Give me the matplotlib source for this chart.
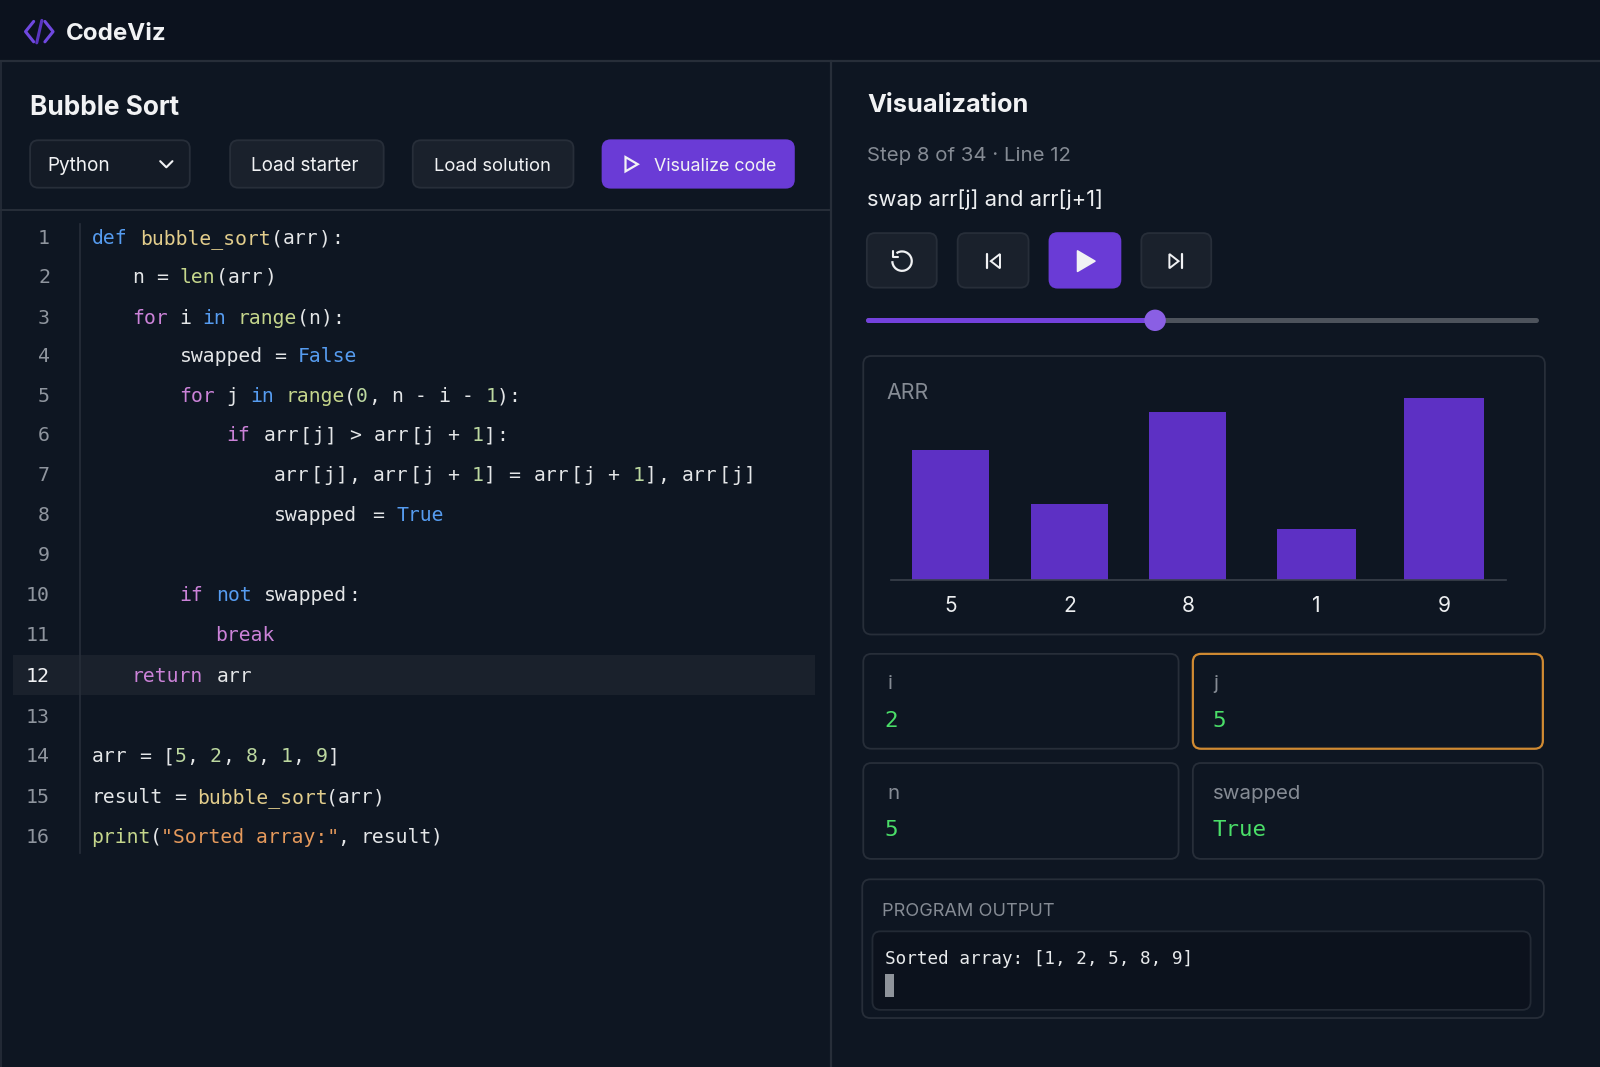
import re
import matplotlib
matplotlib.use('Agg')
import matplotlib.pyplot as plt
from matplotlib.patches import FancyBboxPatch, Rectangle, Circle, Polygon, Arc

# picture content
code_lines = [
    'def bubble_sort(arr):',
    'n = len(arr)',
    'for i in range(n):',
    'swapped = False',
    'for j in range(0, n - i - 1):',
    'if arr[j] > arr[j + 1]:',
    'arr[j], arr[j + 1] = arr[j + 1], arr[j]',
    'swapped = True',
    '',
    'if not swapped:',
    'break',
    'return arr',
    '',
    'arr = [5, 2, 8, 1, 9]',
    'result = bubble_sort(arr)',
    'print("Sorted array:", result)',
]
arr_labels = ['5', '2', '8', '1', '9']
bar_heights = [128, 75, 165, 50, 179]
var_names = ['i', 'j', 'n', 'swapped']
var_values = ['2', '5', '5', 'True']
output_text = 'Sorted array: [1, 2, 5, 8, 9]'

# layout, in the 1568 wide frame the picture was measured in
line_y = [232, 270, 310, 348, 387, 425, 464, 503, 543, 582, 621, 661, 701, 740, 780, 819]
line_x0 = [90, 129, 129, 176, 176, 222, 268, 268, 90, 176, 211, 129, 90, 90, 90, 89]
line_x1 = [336, 271, 337, 350, 510, 498, 741, 437, 90, 353, 270, 248, 90, 333, 377, 434]
bar_x = [931.5, 1048, 1164, 1290, 1415]
bar_w = [76, 75, 75, 78, 79]

BG = '#0e1622'
HEADER = '#0c121e'
LINE = '#272e39'
BTN = '#1a212c'
PURPLE = '#6a3bd6'
WHITE = '#f1f2f4'
GREY = '#858b94'
GREEN = '#4ade68'
UI = ['Inter', 'DejaVu Sans']
MONO = 'DejaVu Sans Mono'
PX = 0.7347  # one frame pixel in points at dpi 100

token_colors = {
    'def': '#569cf0', 'in': '#569cf0', 'not': '#569cf0', 'False': '#569cf0', 'True': '#569cf0',
    'for': '#cb82d8', 'if': '#cb82d8', 'break': '#cb82d8', 'return': '#cb82d8',
    'bubble_sort': '#e2cd8c', 'len': '#c5d68c', 'range': '#c5d68c', 'print': '#c5d68c',
}

fig = plt.figure(figsize=(16, 10.67), dpi=100, facecolor=BG)
ax = fig.add_axes([0, 0, 1, 1])
ax.set_xlim(0, 1568)
ax.set_ylim(1046, 0)
ax.axis('off')


def box(x0, y0, x1, y1, r=8, fc=BTN, ec=LINE, lw=1.3):
    ax.add_patch(FancyBboxPatch((x0, y0), x1 - x0, y1 - y0,
                                boxstyle='round,pad=0,rounding_size=%s' % r,
                                fc=fc, ec=ec, lw=lw, zorder=2))


def label(x, y, s, size, color=WHITE, weight='normal', ha='left', family=None):
    ax.text(x, y, s, fontsize=size * PX, color=color, fontweight=weight, ha=ha,
            va='center_baseline', family=family or UI, zorder=5)


def stroke(xs, ys, color=WHITE, lw=1.6):
    ax.plot(xs, ys, color=color, lw=lw, solid_capstyle='round', solid_joinstyle='round', zorder=5)


# frame
ax.add_patch(Rectangle((0, 0), 1568, 60, fc=HEADER, ec='none', zorder=1))
ax.plot([0, 1568], [60, 60], color=LINE, lw=1.6, zorder=2)
ax.plot([814, 814], [60, 1046], color=LINE, lw=1.6, zorder=2)
ax.plot([1, 1], [60, 1046], color=LINE, lw=1.2, zorder=2)
ax.plot([0, 814], [205.5, 205.5], color=LINE, lw=1.4, zorder=2)

# header
stroke([33, 25, 33], [21, 31, 41], '#7048e0', 2.2)
stroke([44, 52, 44], [21, 31, 41], '#7048e0', 2.2)
stroke([41, 36], [20, 42], '#5a35c0', 2.2)
label(65, 31, 'CodeViz', 23.6, weight='bold')

# left toolbar
label(29, 103, 'Bubble Sort', 25.7, weight='bold')
box(29.5, 137.5, 186, 184, fc='#141b26')
label(46, 161, 'Python', 18.6)
stroke([157, 163, 169], [158, 164, 158], WHITE, 1.5)
box(225.5, 137.5, 376, 184)
label(299, 161, 'Load starter', 18.5, ha='center')
box(404.5, 137.5, 562, 184)
label(483, 161, 'Load solution', 18.1, ha='center')
box(590.5, 137.5, 778, 184, fc=PURPLE, ec=PURPLE)
ax.add_patch(Polygon([(613, 154), (613, 168), (625, 161)], closed=True, fc='none', ec=WHITE, lw=1.6, zorder=5))
label(701, 161, 'Visualize code', 17.5, ha='center')

# code
ax.add_patch(Rectangle((13, 642), 786, 39, fc='#1a212c', ec='none', zorder=1))
ax.plot([78, 78], [220, 836], color=LINE, lw=1.2, zorder=2)
for n, text in enumerate(code_lines):
    y = line_y[n]
    label(49, y, str(n + 1), 19.5, WHITE if n == 11 else '#8f959e', ha='right', family=MONO)
    if not text:
        continue
    step = (line_x1[n] - line_x0[n]) / len(text)
    for m in re.finditer(r'"[^"]*"|\w+|[^\w\s]', text):
        tok = m.group()
        if tok.startswith('"'):
            col = '#e69a5c'
        elif tok.isdigit():
            col = '#bcd8a0'
        else:
            col = token_colors.get(tok, '#e4e6e8')
        label(line_x0[n] + m.start() * step, y, tok, 19.4, col, family=MONO)

# right header
label(850, 101, 'Visualization', 24.8, weight='bold')
label(850, 151, 'Step 8 of 34 \u00b7 Line 12', 20, GREY)
label(850, 194, 'swap arr[j] and arr[j+1]', 21.5, '#eceef0')

# player
box(849.5, 228.5, 918, 282)
box(938.5, 228.5, 1008, 282)
box(1028.5, 228.5, 1098, 282, fc=PURPLE, ec=PURPLE)
box(1118.5, 228.5, 1187, 282)
ax.add_patch(Arc((884, 256), 19, 19, theta1=-125, theta2=180, color=WHITE, lw=1.6, zorder=5))
stroke([875, 875, 880], [246.5, 251.5, 251.5], WHITE, 1.5)
stroke([967, 967], [249, 263], WHITE, 1.6)
ax.add_patch(Polygon([(980, 249), (980, 263), (971, 256)], closed=True, fc='none', ec=WHITE, lw=1.4, zorder=5))
ax.add_patch(Polygon([(1056, 246), (1056, 266), (1073, 256)], closed=True, fc=WHITE, ec=WHITE, lw=1.2, joinstyle='round', zorder=5))
stroke([1158, 1158], [249, 263], WHITE, 1.6)
ax.add_patch(Polygon([(1146, 249), (1146, 263), (1155, 256)], closed=True, fc='none', ec=WHITE, lw=1.4, zorder=5))

# slider
ax.plot([851, 1505], [314, 314], color='#4d535c', lw=3.6, solid_capstyle='round', zorder=3)
ax.plot([851, 1132], [314, 314], color='#7442dd', lw=3.6, solid_capstyle='round', zorder=4)
ax.add_patch(Circle((1132, 314), 10.5, fc='#8a5fe4', ec='none', zorder=5))

# array panel
box(846, 349, 1514, 622, fc='none')
label(869, 383, 'ARR', 21, GREY)
left, right, top, base = 873, 1476, 380, 569
bar_ax = fig.add_axes([left / 1568, 1 - base / 1046, (right - left) / 1568, (base - top) / 1046])
bar_ax.patch.set_alpha(0)
bar_ax.bar(bar_x, bar_heights, width=bar_w, color='#5d30c4')
bar_ax.set_xlim(left, right)
bar_ax.set_ylim(0, base - top)
bar_ax.set_yticks([])
bar_ax.set_xticks(bar_x)
bar_ax.set_xticklabels(arr_labels, fontsize=20.5 * PX, color='#eceef0', family=UI)
bar_ax.tick_params(axis='x', length=0, pad=11)
for side in ['top', 'left', 'right']:
    bar_ax.spines[side].set_visible(False)
bar_ax.spines['bottom'].set_color('#3a414c')
bar_ax.spines['bottom'].set_linewidth(1.2)

# variables
var_boxes = [(846, 641, 1155, 734), (1169, 641, 1512, 734), (846, 748, 1155, 842), (1169, 748, 1512, 842)]
for k, (x0, y0, x1, y1) in enumerate(var_boxes):
    hot = var_names[k] == 'j'
    box(x0, y0, x1, y1, fc=BG, ec='#d08a32' if hot else LINE, lw=1.6 if hot else 1.3)
    label(x0 + 20 if k % 2 else x0 + 24, y0 + 28, var_names[k], 20, GREY)
    label(x0 + 19 if k % 2 else x0 + 21, y0 + 64, var_values[k], 22, GREEN, family=MONO)

# output
box(845, 862, 1513, 998, fc='none')
label(864, 892, 'PROGRAM OUTPUT', 17.8, GREY)
box(855, 913, 1500, 990, fc='#0c121d', ec='#232a35')
label(867, 938, output_text, 17.3, '#e8eaec', family=MONO)
ax.add_patch(Rectangle((867, 955), 9.5, 22, fc='#8f949b', ec='none', zorder=5))

fig.savefig('out.png', dpi=100, facecolor=BG)
